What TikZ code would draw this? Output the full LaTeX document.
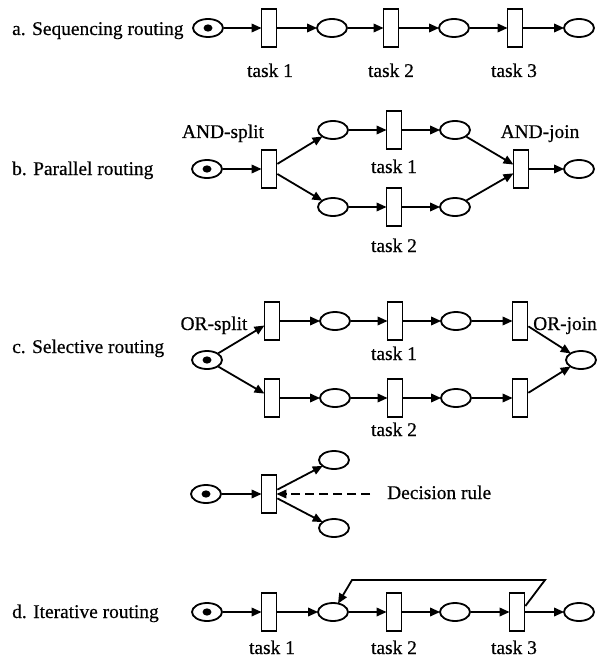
\documentclass[tikz,border=0pt]{standalone}
\usepackage{fontspec}
\setmainfont[BoldFont=Liberation Serif, BoldFeatures={FakeBold=0.5}]{Liberation Serif}
\usetikzlibrary{arrows.meta,shapes.geometric,calc}
\begin{document}
\begin{tikzpicture}[x=1pt,y=-1pt,
  txt/.style={font=\fontsize{19.4pt}{22pt}\selectfont\bfseries, inner sep=0pt},
  title/.style={txt, anchor=base west},
  lbl/.style={txt, anchor=base},
  place/.style={ellipse, draw, line width=1.8pt, minimum width=30pt, minimum height=18pt, inner sep=0pt},
  start/.style={place, path picture={\fill (path picture bounding box.center) ellipse [x radius=4.5pt, y radius=3.6pt];}},
  trans/.style={rectangle, draw, line width=1.8pt, minimum width=15pt, minimum height=38pt, inner sep=0pt},
  arr/.style={line width=1.8pt, -{Triangle[length=10pt,width=8.5pt]}, shorten >=-1pt},
]
\useasboundingbox (0,0) rectangle (602,658);

% ---------- a. sequencing ----------
\node[title] (ta) at (12,35) {a. Sequencing routing};
\node[start] (sa) at (208,28) {};
\node[trans] (a1) at (269,28) {};
\node[place] (pa1) at (332,28) {};
\node[trans] (a2) at (391,28) {};
\node[place] (pa2) at (454,28) {};
\node[trans] (a3) at (515,28) {};
\node[place] (pa3) at (579,28) {};
\node[lbl] (la1) at (270,77) {task 1};
\node[lbl] (la2) at (391,77) {task 2};
\node[lbl] (la3) at (514,77) {task 3};
\draw[arr] (sa) -- (a1);
\draw[arr] (a1) -- (pa1);
\draw[arr] (pa1) -- (a2);
\draw[arr] (a2) -- (pa2);
\draw[arr] (pa2) -- (a3);
\draw[arr] (a3) -- (pa3);

% ---------- b. parallel ----------
\node[title] (tb) at (12,175) {b. Parallel routing};
\node[start] (sb) at (207,169) {};
\node[trans] (bs) at (269,169) {};
\node[place] (pb1) at (333,130) {};
\node[trans] (b1) at (394,130) {};
\node[place] (pb2) at (455,130) {};
\node[place] (pb3) at (333,207) {};
\node[trans] (b2) at (394,207) {};
\node[place] (pb4) at (455,207) {};
\node[trans] (bj) at (521,169) {};
\node[place] (pbe) at (579,169) {};
\node[lbl] (lbs) at (223,138) {AND-split};
\node[lbl] (lbj) at (540,138) {AND-join};
\node[lbl] (lb1) at (394,173) {task 1};
\node[lbl] (lb2) at (394,252) {task 2};
\draw[arr] (sb) -- (bs);
\draw[arr] (bs) -- (pb1);
\draw[arr] (bs) -- (pb3);
\draw[arr] (pb1) -- (b1);
\draw[arr] (b1) -- (pb2);
\draw[arr] (pb3) -- (b2);
\draw[arr] (b2) -- (pb4);
\draw[arr] (pb2) -- (bj);
\draw[arr] (pb4) -- (bj);
\draw[arr] (bj) -- (pbe);

% ---------- c. selective ----------
\node[title] (tc) at (12,353) {c. Selective routing};
\node[start] (sc) at (207,360) {};
\node[trans] (c1) at (272,321) {};
\node[place] (pc1) at (335,321) {};
\node[trans] (c2) at (395,321) {};
\node[place] (pc2) at (456,321) {};
\node[trans] (c3) at (520,321) {};
\node[trans] (c4) at (272,398) {};
\node[place] (pc3) at (335,398) {};
\node[trans] (c5) at (395,398) {};
\node[place] (pc4) at (456,398) {};
\node[trans] (c6) at (520,398) {};
\node[place] (pce) at (581,360) {};
\node[lbl] (lcs) at (214,330) {OR-split};
\node[lbl] (lcj) at (565,330) {OR-join};
\node[lbl] (lc1) at (394,360) {task 1};
\node[lbl] (lc2) at (394,436) {task 2};
\draw[arr] (sc) -- (c1);
\draw[arr] (sc) -- (c4);
\draw[arr] (c1) -- (pc1);
\draw[arr] (pc1) -- (c2);
\draw[arr] (c2) -- (pc2);
\draw[arr] (pc2) -- (c3);
\draw[arr] (c4) -- (pc3);
\draw[arr] (pc3) -- (c5);
\draw[arr] (c5) -- (pc4);
\draw[arr] (pc4) -- (c6);
\draw[arr] (c3) -- (pce);
\draw[arr] (c6) -- (pce);

% decision rule
\node[start] (sr) at (206,494) {};
\node[trans] (tr) at (269,494) {};
\node[place] (pru) at (334,460) {};
\node[place] (prl) at (334,528) {};
\node[txt, anchor=base west] (rule) at (387,499) {Decision rule};
\coordinate (rs) at (370,494);
\draw[arr] (sr) -- (tr);
\draw[arr] (tr) -- (pru);
\draw[arr] (tr) -- (prl);
\draw[arr, dash pattern=on 9pt off 5pt] (rs) -- (tr);

% ---------- d. iterative ----------
\node[title] (td) at (12,618) {d. Iterative routing};
\node[start] (sd) at (207,612) {};
\node[trans] (d1) at (269,612) {};
\node[place] (pd1) at (333,612) {};
\node[trans] (d2) at (394,612) {};
\node[place] (pd2) at (455,612) {};
\node[trans] (d3) at (517,612) {};
\node[place] (pde) at (579,612) {};
\node[lbl] (ld1) at (272,654) {task 1};
\node[lbl] (ld2) at (394,654) {task 2};
\node[lbl] (ld3) at (514,654) {task 3};
\draw[arr] (sd) -- (d1);
\draw[arr] (d1) -- (pd1);
\draw[arr] (pd1) -- (d2);
\draw[arr] (d2) -- (pd2);
\draw[arr] (pd2) -- (d3);
\draw[arr] (d3) -- (pde);
\coordinate (fb1) at (545,580);
\coordinate (fb2) at (352,580);
\draw[arr, line join=miter] ($(d3.east)+(0,-6)$) -- (fb1) -- (fb2) -- (pd1);
\end{tikzpicture}
\end{document}
